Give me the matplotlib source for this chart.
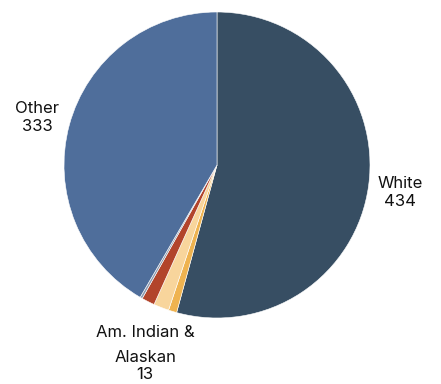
import matplotlib.pyplot as plt
import numpy as np

# 파이 차트 데이터
groups = ['White', 'Asian', 'Am. Indian &\nAlaskan', 'Black', 'Pacific Isl.', 'Other']
counts = [434, 7, 13, 11, 2, 333]
colors = ['#374e63', '#efb350', '#f8d59c', '#b2442b', '#8d9bb0', '#4f6e9b']
shown = ['White', 'Other', 'Am. Indian &\nAlaskan']

plt.rcParams['font.family'] = ['Inter', 'DejaVu Sans']

fig = plt.figure(figsize=(4.41, 3.84), dpi=100)
ax = fig.add_axes([0, 0, 1, 1])

cx, cy, r = 217, 165, 153  # 픽셀 기준 중심, 반지름
wedges, _ = ax.pie(counts, colors=colors, startangle=90, counterclock=False,
                   wedgeprops=dict(edgecolor='white', linewidth=0.4))

ax.set_xlim(-cx / r, (441 - cx) / r)
ax.set_ylim(-(384 - cy) / r, cy / r)
ax.set_aspect('equal')
ax.axis('off')

for w, name, val in zip(wedges, groups, counts):
    if name not in shown:
        continue
    ang = np.deg2rad((w.theta1 + w.theta2) / 2)
    x, y = np.cos(ang), np.sin(ang)
    if name == 'White':
        ax.text(1.07 * x - 0.01, 1.07 * y - 0.04, f'{name}\n{val}', ha='left', va='center',
                multialignment='center', fontsize=12, linespacing=1.25, color='#111111')
    elif name == 'Other':
        ax.text(1.07 * x, 1.07 * y + 0.03, f'{name}\n{val}', ha='right', va='center',
                multialignment='center', fontsize=12, linespacing=1.25, color='#111111')
    else:
        first, second = name.split('\n')
        ax.text(1.07 * x - 0.08, 1.07 * y - 0.05, first, ha='center', va='top',
                fontsize=12, color='#111111')
        ax.text(1.07 * x - 0.08, 1.07 * y - 0.215, f'{second}\n{val}', ha='center', va='top',
                fontsize=12, linespacing=1.1, color='#111111')

fig.savefig('out.png', dpi=100)
